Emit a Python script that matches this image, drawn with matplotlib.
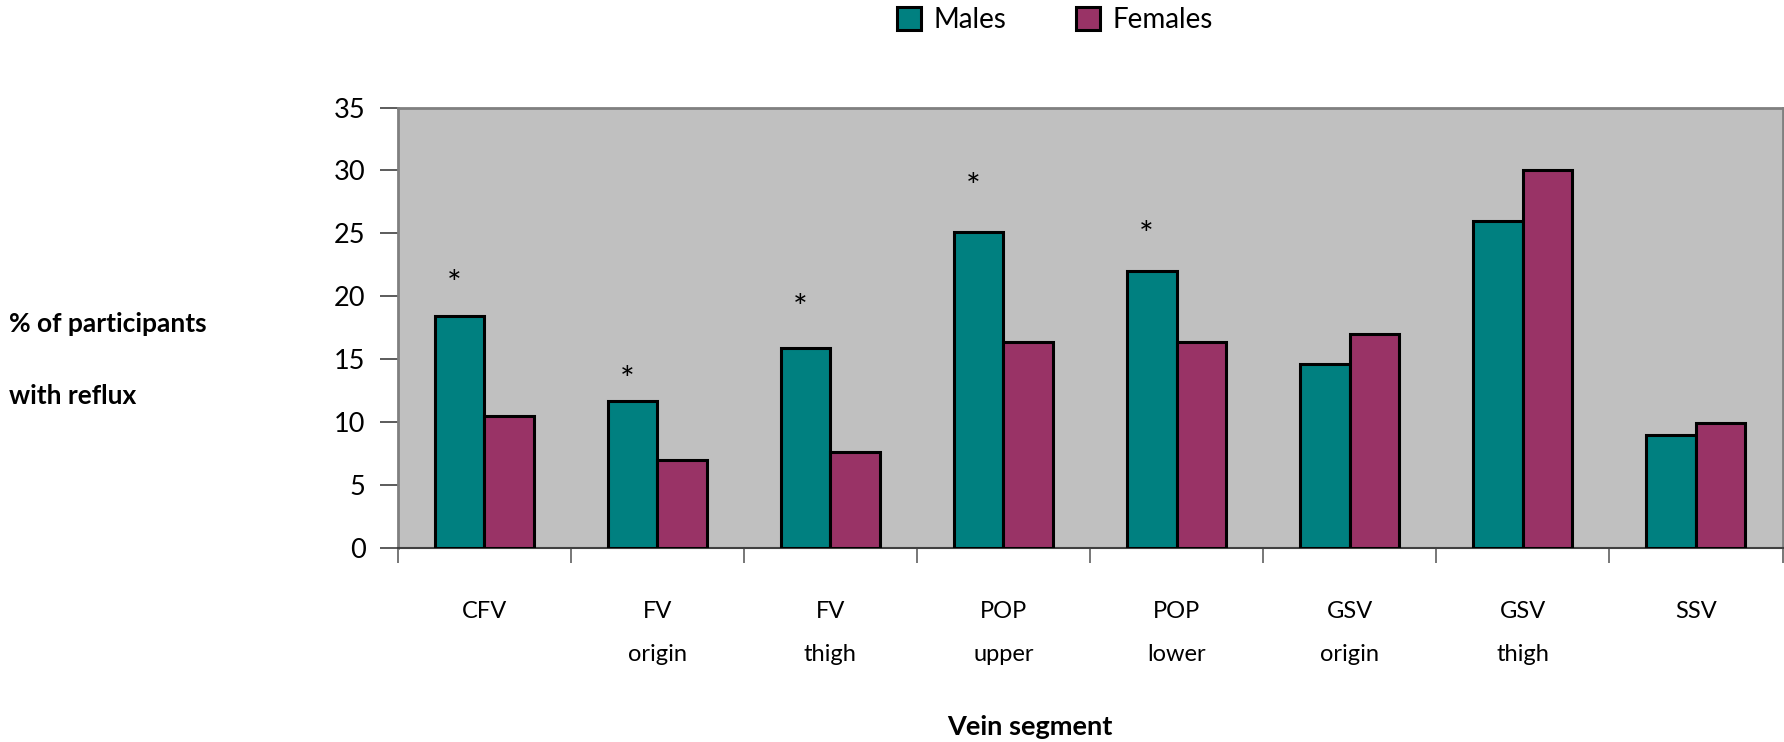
import numpy as np
import matplotlib
matplotlib.use("Agg")
import matplotlib.pyplot as plt
from matplotlib.patches import Patch

plt.rcParams['font.family'] = ['Lato', 'DejaVu Sans']

categories = ['CFV', 'FV\norigin', 'FV\nthigh', 'POP\nupper', 'POP\nlower',
              'GSV\norigin', 'GSV\nthigh', 'SSV']
males = [18.4, 11.7, 15.9, 25.1, 22.0, 14.6, 26.0, 9.0]
females = [10.5, 7.0, 7.6, 16.4, 16.4, 17.0, 30.0, 9.9]
# asterisks (significant difference) drawn above the male bars
star_idx = [0, 1, 2, 3, 4]
star_y = [21.6, 14.0, 19.7, 29.3, 25.5]

teal = '#008080'
plum = '#993366'

fig = plt.figure(figsize=(17.84, 7.42), dpi=100)
ax = fig.add_axes([397.5 / 1784, 1 - 548 / 742, 1385 / 1784, 440.5 / 742])
ax.set_facecolor('#c0c0c0')

x = np.arange(len(categories))
w = 1 / 3.5
ax.bar(x - w / 2, males, w, color=teal, edgecolor='black', linewidth=2.2, zorder=3)
ax.bar(x + w / 2, females, w, color=plum, edgecolor='black', linewidth=2.2, zorder=3)

for i, yv in zip(star_idx, star_y):
    ax.text(x[i] - w / 2 - 0.03, yv - 0.7, '*', ha='center', va='center', fontsize=25, zorder=4)

ax.set_xlim(-0.5, len(categories) - 0.5)
ax.set_ylim(0, 35)
ax.set_yticks(np.arange(0, 36, 5))
ax.set_xticks(np.arange(-0.5, len(categories), 1))
ax.set_xticklabels([])
ax.set_xticks(x, minor=True)
ax.set_xticklabels(categories, minor=True, fontsize=17, linespacing=2.3, va='top')
ax.tick_params(axis='x', which='minor', length=0, pad=38)
ax.tick_params(axis='x', which='major', length=11, width=1.2, color='#606060', direction='out')
ax.tick_params(axis='y', length=13, width=1.2, color='#404040', labelsize=19.5, pad=10)

for s in ['top', 'right', 'left']:
    ax.spines[s].set_color('#808080')
    ax.spines[s].set_linewidth(2)
ax.spines['bottom'].set_color('#404040')
ax.spines['bottom'].set_linewidth(1.5)

fig.text(9 / 1784, 1 - 324 / 742, '% of participants', fontsize=19, fontweight='bold',
         ha='left', va='center')
fig.text(9 / 1784, 1 - 396 / 742, 'with reflux', fontsize=19, fontweight='bold',
         ha='left', va='center')
fig.text(1030 / 1784, 1 - 727 / 742, 'Vein segment', fontsize=19.5, fontweight='bold',
         ha='center', va='center')

handles = [Patch(facecolor=teal, edgecolor='black', linewidth=2.2, label='Males'),
           Patch(facecolor=plum, edgecolor='black', linewidth=2.2, label='Females')]
fig.legend(handles=handles, loc='center', bbox_to_anchor=(1055 / 1784, 1 - 20 / 742),
           ncol=2, frameon=False, fontsize=20, handlelength=0.86, handleheight=0.86,
           columnspacing=2.5, handletextpad=0.45, borderpad=0, borderaxespad=0)

fig.savefig('out.png', dpi=100)
